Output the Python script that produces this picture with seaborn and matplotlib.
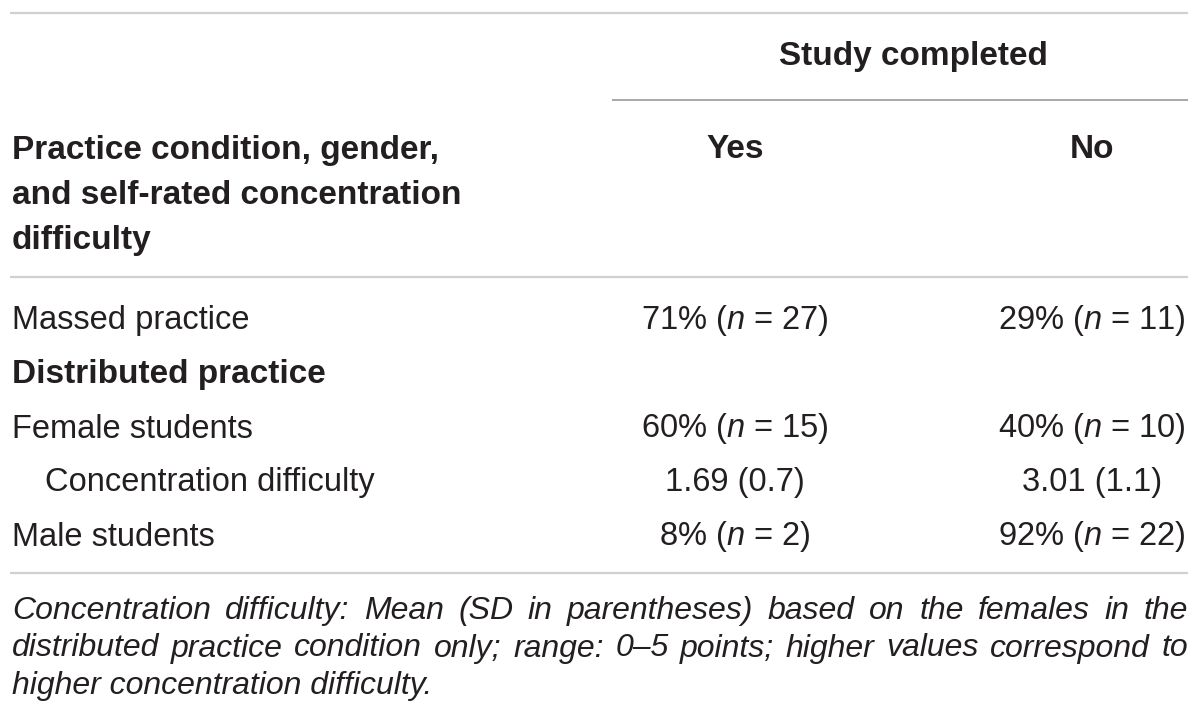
import matplotlib
matplotlib.use("Agg")
import matplotlib.pyplot as plt
import seaborn as sns

# table content
col_group = "Study completed"
col_labels = ["Yes", "No"]
header_lines = ["Practice condition, gender,",
                "and self-rated concentration",
                "difficulty"]
row_labels = ["Massed practice", "Distributed practice", "Female students",
              "Concentration difficulty", "Male students"]
row_bold = [False, True, False, False, False]
row_indent = [False, False, False, True, False]
yes_vals = ["71% ($n$ = 27)", "", "60% ($n$ = 15)", "1.69 (0.7)", "8% ($n$ = 2)"]
no_vals = ["29% ($n$ = 11)", "", "40% ($n$ = 10)", "3.01 (1.1)", "92% ($n$ = 22)"]
footnote_lines = [
    "Concentration difficulty: Mean (SD in parentheses) based on the females in the",
    "distributed practice condition only; range: 0\u20135 points; higher values correspond to",
    "higher concentration difficulty.",
]

sns.set_theme(style="white")
plt.rcParams["font.family"] = ["Liberation Sans", "DejaVu Sans"]
plt.rcParams["mathtext.fontset"] = "custom"
plt.rcParams["mathtext.rm"] = "Liberation Sans"
plt.rcParams["mathtext.it"] = "Liberation Sans:italic"

W, H = 1200, 722
fig = plt.figure(figsize=(12, 7.22), dpi=100)
ax = fig.add_axes([0, 0, 1, 1])
ax.set_xlim(0, W)
ax.set_ylim(H, 0)
ax.axis("off")

txt = "#231f20"
fs = 23.5
fs_b = 24
left = 12
right = 1188
x_yes, x_no = 735, 1092

# rules
ax.hlines(13, left - 2, right, color="#d0d0d0", lw=1.6)
ax.hlines(100, 612, right, color="#a8a8a8", lw=1.4)
ax.hlines(277, left - 2, right, color="#d0d0d0", lw=1.6)
ax.hlines(573, left - 2, right, color="#d0d0d0", lw=1.6)

# header
ax.text((x_yes + x_no) / 2, 56, col_group, ha="center", va="center",
        fontsize=fs_b, fontweight="bold", color=txt)
for x, lab in zip([x_yes, x_no], col_labels):
    ax.text(x, 150, lab, ha="center", va="center", fontsize=fs_b,
            fontweight="bold", color=txt)
for i, line in enumerate(header_lines):
    ax.text(left, 150 + i * 45, line, ha="left", va="center", fontsize=fs_b,
            fontweight="bold", color=txt)

# body rows
row_y0, row_dy = 321, 54
for i, lab in enumerate(row_labels):
    y = row_y0 + i * row_dy
    x = left + (33 if row_indent[i] else 0)
    ax.text(x, y, lab, ha="left", va="center", color=txt,
            fontsize=fs_b if row_bold[i] else fs,
            fontweight="bold" if row_bold[i] else "normal")
    if yes_vals[i]:
        ax.text(x_yes, y, yes_vals[i], ha="center", va="center",
                fontsize=fs, color=txt)
    if no_vals[i]:
        ax.text(x_no, y, no_vals[i], ha="center", va="center",
                fontsize=fs, color=txt)

# footnote, justified like the printed table
renderer = fig.canvas.get_renderer()
fn_fs = 23
for k, line in enumerate(footnote_lines):
    y = 611 + k * 37.5
    words = line.split(" ")
    if k == len(footnote_lines) - 1:
        ax.text(left, y, line, ha="left", va="center", fontsize=fn_fs,
                style="italic", color=txt)
        continue
    items = []
    for w in words:
        t = ax.text(0, y, w, ha="left", va="center", fontsize=fn_fs,
                    style="italic", color=txt)
        items.append((t, t.get_window_extent(renderer).width))
    total = sum(wd for _, wd in items)
    gap = (right - left - total) / (len(items) - 1)
    x = left
    for t, wd in items:
        t.set_x(x)
        x += wd + gap

fig.savefig("out.png", dpi=100)
